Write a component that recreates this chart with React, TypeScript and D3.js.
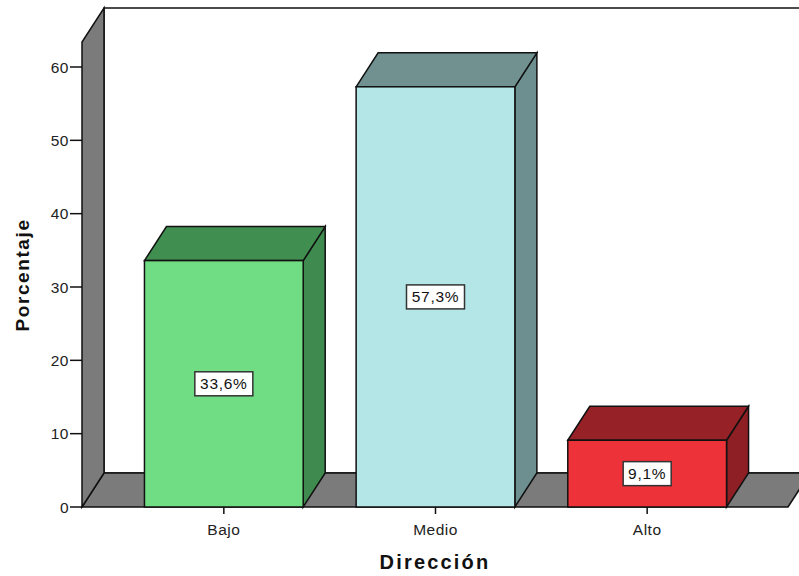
import * as d3 from 'd3';
import React from 'react';

// chart values
const categories = ['Bajo', 'Medio', 'Alto'];
const percentages = [33.6, 57.3, 9.1];
const valueLabels = ['33,6%', '57,3%', '9,1%'];
const yTicks = [0, 10, 20, 30, 40, 50, 60];

const frontColors = ['#70dc84', '#b4e6e8', '#ee3239'];
const sideColors = ['#3f8b4f', '#6d8f8f', '#8e1f24'];
const topColors = ['#418e51', '#719191', '#962127'];

const W = 799;
const H = 576;
const DX = 22;
const DY = 34;
const font = 'Liberation Sans, Arial, sans-serif';

const App = () => {
  const y = d3.scaleLinear().domain([0, 60]).range([507, 67]);
  const x = d3
    .scaleBand()
    .domain(categories)
    .range([118, 753])
    .paddingInner(0.25)
    .paddingOuter(0.125);

  const y0 = y(0);
  const left = 82;
  const right = 788;
  const wallTop = y(63.4);

  const pts = (p) => p.map((d) => d.join(',')).join(' ');

  return (
    <svg width={W} height={H} style={{ position: 'absolute', left: 0, top: 0 }}>
      <rect width={W} height={H} fill="white" />
      {/* back wall */}
      <polygon
        points={pts([
          [left + DX, wallTop - DY],
          [right + DX + 30, wallTop - DY],
          [right + DX + 30, y0 - DY],
          [left + DX, y0 - DY],
        ])}
        fill="white"
        stroke="#111"
        strokeWidth={1.5}
      />
      {/* floor */}
      <polygon
        points={pts([
          [left, y0],
          [left + DX, y0 - DY],
          [right + DX, y0 - DY],
          [right, y0],
        ])}
        fill="#7b7b7b"
        stroke="#111"
        strokeWidth={1.5}
      />
      {/* left wall */}
      <polygon
        points={pts([
          [left, y0],
          [left, wallTop],
          [left + DX, wallTop - DY],
          [left + DX, y0 - DY],
        ])}
        fill="#7b7b7b"
        stroke="#111"
        strokeWidth={1.5}
      />
      {/* y axis */}
      {yTicks.map((t) => (
        <g key={t}>
          <line x1={left - 12} x2={left} y1={y(t)} y2={y(t)} stroke="#111" strokeWidth={1.5} />
          <text
            x={left - 13}
            y={y(t)}
            dy="0.36em"
            textAnchor="end"
            fontFamily={font}
            fontSize={15.5}
            letterSpacing={0.5}
            fill="#222"
          >
            {t}
          </text>
        </g>
      ))}
      {/* bars */}
      {categories.map((c, i) => {
        const x0 = x(c);
        const x1 = x0 + x.bandwidth();
        const top = y(percentages[i]);
        const cx = (x0 + x1) / 2;
        const cy = (top + y0) / 2;
        const bw = valueLabels[i].length * 10 + 8;
        return (
          <g key={c}>
            <polygon
              points={pts([
                [x1, top],
                [x1 + DX, top - DY],
                [x1 + DX, y0 - DY],
                [x1, y0],
              ])}
              fill={sideColors[i]}
              stroke="#111"
              strokeWidth={1.5}
            />
            <polygon
              points={pts([
                [x0, top],
                [x0 + DX, top - DY],
                [x1 + DX, top - DY],
                [x1, top],
              ])}
              fill={topColors[i]}
              stroke="#111"
              strokeWidth={1.5}
            />
            <rect
              x={x0}
              y={top}
              width={x.bandwidth()}
              height={y0 - top}
              fill={frontColors[i]}
              stroke="#111"
              strokeWidth={1.5}
            />
            <rect
              x={cx - bw / 2}
              y={cy - 12}
              width={bw}
              height={24}
              fill="white"
              stroke="#333"
              strokeWidth={1.5}
            />
            <text
              x={cx}
              y={cy}
              dy="0.36em"
              textAnchor="middle"
              fontFamily={font}
              fontSize={15.5}
              letterSpacing={0.7}
              fill="#111"
            >
              {valueLabels[i]}
            </text>
            <line x1={cx} x2={cx} y1={y0} y2={y0 + 7} stroke="#111" strokeWidth={1.5} />
            <text
              x={cx}
              y={y0 + 22}
              dy="0.36em"
              textAnchor="middle"
              fontFamily={font}
              fontSize={15.5}
              letterSpacing={0.5}
              fill="#222"
            >
              {c}
            </text>
          </g>
        );
      })}
      {/* axis titles */}
      <text
        transform={`translate(29, 275) rotate(-90)`}
        textAnchor="middle"
        fontFamily={font}
        fontSize={19}
        fontWeight="bold"
        letterSpacing={1.6}
        fill="#111"
      >
        Porcentaje
      </text>
      <text
        x={435}
        y={569}
        textAnchor="middle"
        fontFamily={font}
        fontSize={20}
        fontWeight="bold"
        letterSpacing={2.2}
        fill="#111"
      >
        Dirección
      </text>
    </svg>
  );
};

export default App;
